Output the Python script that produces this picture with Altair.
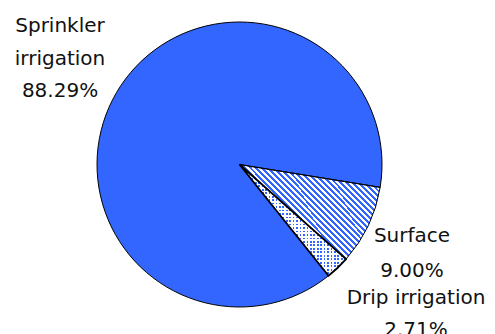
import math
import altair as alt
import pandas as pd

# ---- data ----
categories = ["Surface", "Drip irrigation", "Sprinkler irrigation"]
label_lines = ["Surface", "Drip irrigation", "Sprinkler\nirrigation"]
shares = [9.00, 2.71, 88.29]
order_idx = [0, 1, 2]

df = pd.DataFrame({"cat": categories, "name": label_lines, "value": shares, "idx": order_idx})

BLUE = "#3366ff"
CX, CY, R = 239.5, 164.5, 142.5
A0 = math.radians(99.2)


def stripes(n, c1, c2, x1, y1, x2, y2, frac=0.5):
    stops = []
    for i in range(n):
        s, m, e = i / n, (i + frac) / n, (i + 1) / n
        stops += [
            {"offset": s, "color": c1},
            {"offset": m, "color": c1},
            {"offset": m, "color": c2},
            {"offset": e, "color": c2},
        ]
    return {"gradient": "linear", "x1": x1, "y1": y1, "x2": x2, "y2": y2, "stops": stops}


surface_grad = stripes(40, BLUE, "#ffffff", 0, 1, 1.155, 0.234, 0.5)
drip_rows = stripes(32, BLUE, "#ffffff", 0, 0, 0, 1, 0.5)
drip_cols = stripes(31, "#ffffff", "rgba(255,255,255,0)", 0, 0, 1, 0, 0.5)

base = alt.Chart(df).encode(
    theta=alt.Theta("value:Q", stack=True, scale=alt.Scale(range=[A0, A0 + 2 * math.pi])),
    order=alt.Order("idx:Q"),
    x=alt.value(CX),
    y=alt.value(CY),
)

pie_fill = base.mark_arc(radius=R, strokeWidth=0).encode(
    fill={
        "condition": [
            {"test": "datum.cat === 'Surface'", "value": surface_grad},
            {"test": "datum.cat === 'Drip irrigation'", "value": drip_rows},
        ],
        "value": BLUE,
    }
)

pie_dots = base.mark_arc(radius=R, strokeWidth=0).encode(
    fill={
        "condition": [{"test": "datum.cat === 'Drip irrigation'", "value": drip_cols}],
        "value": "transparent",
    }
)

pie_stroke = base.mark_arc(radius=R, fillOpacity=0, fill="white", stroke="black").encode(
    strokeWidth={
        "condition": [{"test": "datum.cat === 'Drip irrigation'", "value": 1.8}],
        "value": 1,
    }
)

lbl = base.transform_calculate(
    label="datum.name + '\\n' + format(datum.value, '.2f') + '%'"
)

FONT = "DejaVu Sans"
FS = 20

t_sprinkler = lbl.transform_filter("datum.cat === 'Sprinkler irrigation'").mark_text(
    font=FONT, fontSize=FS, color="#111111", align="center", baseline="alphabetic",
    lineBreak="\n", lineHeight=32.5,
).encode(text="label:N", x=alt.value(60), y=alt.value(32))

t_surface = lbl.transform_filter("datum.cat === 'Surface'").mark_text(
    font=FONT, fontSize=FS, color="#111111", align="center", baseline="alphabetic",
    lineBreak="\n", lineHeight=35,
).encode(text="label:N", x=alt.value(412), y=alt.value(242))

t_drip = lbl.transform_filter("datum.cat === 'Drip irrigation'").mark_text(
    font=FONT, fontSize=FS, color="#111111", align="center", baseline="alphabetic",
    lineBreak="\n", lineHeight=32,
).encode(text="label:N", x=alt.value(416), y=alt.value(304))

chart = (
    alt.layer(pie_fill, pie_dots, pie_stroke, t_sprinkler, t_surface, t_drip)
    .properties(width=495, height=334, autosize="none", padding=0, background="white")
    .configure_view(strokeWidth=0)
)

chart.save("out.html", embed_options={"renderer": "svg", "actions": False})
